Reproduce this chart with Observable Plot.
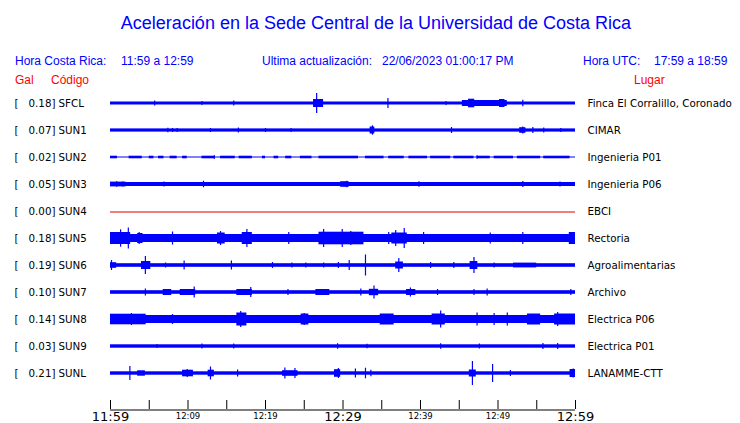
<!DOCTYPE html>
<html>
<head>
<meta charset="utf-8">
<script src="https://cdn.jsdelivr.net/npm/d3@7"></script>
<script src="https://cdn.jsdelivr.net/npm/@observablehq/plot@0.6"></script>
<style>
  body { margin: 0; background: #fff; }
  #wrap { position: relative; width: 740px; height: 423px; overflow: hidden; }
  #head { position: relative; width: 740px; height: 88px; font-family: "Liberation Sans", Arial, sans-serif; }
  #head span { position: absolute; white-space: nowrap; line-height: 1; }
  .b { color: #0000ff; font-size: 12px; }
  .r { color: #ff0000; font-size: 12px; }
  #title { left: 0; width: 752px; text-align: center; top: 14px; font-size: 18px; color: #0000ff; }
  #chart { position: absolute; left: 0; top: 88px; }
</style>
</head>
<body>
<div id="wrap">
  <div id="head">
    <span id="title">Aceleración en la Sede Central de la Universidad de Costa Rica</span>
    <span class="b" style="left:15px;top:55px">Hora Costa Rica:</span>
    <span class="b" style="left:121px;top:55px">11:59 a 12:59</span>
    <span class="b" style="left:262px;top:55px">Ultima actualización:</span>
    <span class="b" style="left:382px;top:55px">22/06/2023 01:00:17 PM</span>
    <span class="b" style="left:583px;top:55px">Hora UTC:</span>
    <span class="b" style="left:654px;top:55px">17:59 a 18:59</span>
    <span class="r" style="left:15px;top:74px">Gal</span>
    <span class="r" style="left:51px;top:74px">Código</span>
    <span class="r" style="left:634px;top:74px">Lugar</span>
  </div>
  <div id="chart"></div>
</div>
<script>
// ---- data ----
const stations = ["SFCL","SUN1","SUN2","SUN3","SUN4","SUN5","SUN6","SUN7","SUN8","SUN9","SUNL"];
const gal = ["0.18","0.07","0.02","0.05","0.00","0.18","0.19","0.10","0.14","0.03","0.21"];
const places = ["Finca El Corralillo, Coronado","CIMAR","Ingenieria P01","Ingenieria P06","EBCI","Rectoria","Agroalimentarias","Archivo","Electrica P06","Electrica P01","LANAMME-CTT"];
// typical half-amplitude of each trace's background band
const coreAmp = [1.5, 1.6, 0.5, 2.0, 0, 4.0, 1.8, 1.8, 4.0, 1.7, 1.7];
// [station index, start minute, end minute, half-amplitude]
const bursts = [
  [0,26.2,27.5,4],[0,45.4,51.2,3],[0,46.2,47.0,4.3],[0,50.2,50.9,4],
  [1,33.5,34.1,3.5],[1,52.8,53.6,2.8],
  [2,0,0.9,1.3],[2,2.4,4.1,1.3],[2,5.0,5.6,1.3],[2,6.2,6.9,1.3],[2,7.7,8.6,1.3],[2,9.3,9.9,1.3],
  [2,11.8,13.5,1.3],[2,14.2,16.1,1.3],[2,16.6,18.3,1.3],[2,19.6,20.0,1.3],[2,21.1,21.7,1.3],
  [2,22.6,23.4,1.3],[2,24.5,26.0,1.3],[2,26.9,32.0,1.3],[2,32.9,35.3,1.3],[2,35.9,37.9,1.3],
  [2,38.5,40.9,1.3],[2,41.3,43.9,1.3],[2,44.3,46.9,1.3],[2,47.3,49.0,1.3],[2,49.5,52.0,1.3],
  [2,52.5,55.5,1.3],[2,55.9,59.3,1.3],
  [3,0,2.0,2.4],[3,29.7,30.8,2.8],
  [5,0,2.6,6],[5,3.5,4.2,5],[5,13.8,14.8,5.5],[5,17.0,18.3,6],[5,26.9,32.7,6.3],[5,36.3,38.3,5.5],[5,59.2,60,6],
  [6,0,0.8,2.8],[6,4.0,5.2,4],[6,36.8,37.8,3.5],[6,46.4,47.4,4],[6,52,55,2.4],
  [7,6.8,7.9,3],[7,9.0,11.0,3],[7,16.3,18.3,3],[7,26.5,28.3,3],[7,33.4,34.6,3.2],[7,38.2,39.4,3],
  [8,0,4.6,5.3],[8,16.3,17.6,6.5],[8,24.6,25.6,5.5],[8,34.8,36.6,5.5],[8,41.5,43.2,5.5],[8,53.8,55.5,5.5],[8,57.3,60,5.5],
  [10,3.5,4.5,2.7],[10,9.3,10.7,3.3],[10,12.6,13.4,3.3],[10,22.2,24.2,2.8],[10,28.9,29.7,3.8],[10,46.3,47.2,3.5],[10,59.3,60,4]
];
// [station index, minute, half-amplitude]
const spikes = [
  [0,5.7,2.5],[0,11.8,1.9],[0,15.9,2.5],[0,26.6,10],[0,35.8,5],[0,43.3,2],[0,53.2,3.3],
  [1,7.4,2.3],[1,8.0,2],[1,8.6,2],[1,12.9,2],[1,16.5,2.5],[1,20.0,2],[1,23.3,2],[1,33.8,4.7],[1,44.0,3],[1,53.2,3.5],[1,54.5,3],[1,55.9,2.5],[1,58.1,2],
  [2,13.4,1.8],[2,47.3,1.8],
  [3,0.8,2.8],[3,1.6,2.6],[3,6.9,2.5],[3,12.0,3.3],[3,30.5,3.3],[3,39.8,2.7],[3,53.2,3],[3,58,2.5],
  [5,1.3,8.7],[5,2.3,10.5],[5,3.7,6],[5,8,6.5],[5,14.2,7],[5,17.6,9],[5,23,6],[5,27.5,9],[5,29.9,9],[5,31.0,7],[5,35.9,6],[5,36.8,8],[5,37.9,10],[5,40.4,6],[5,49.0,5.5],[5,53.2,6],
  [6,0.13,5],[6,4.5,9],[6,7.1,2.5],[6,9.5,4.5],[6,15.6,4.5],[6,20.9,3],[6,23.4,2.5],[6,25.2,2.5],[6,27.5,2.5],[6,29.4,3],[6,30.8,5],[6,32.9,10.5],[6,37.2,7],[6,41.3,3],[6,44.3,3],[6,46.9,8],[6,49.5,2.5],
  [7,4.5,3.5],[7,10.8,5.5],[7,18.1,5],[7,22.9,3],[7,32.3,3.5],[7,34.0,6.5],[7,38.7,4.5],[7,42.2,3],[7,46.9,3],[7,48.6,3.5],[7,59.4,3],
  [8,2.7,6],[8,8,5],[8,16.8,8],[8,25.0,6],[8,42.6,8.5],[8,47.3,6.5],[8,49.5,6],[8,51.2,6.5],[8,57.7,7],
  [9,6.0,2],[9,11.8,2.5],[9,15.9,2.5],[9,29.3,2.8],[9,33.1,2.2],[9,42.6,2.8],[9,47.6,2.5],[9,55.8,3],[9,57.7,3],
  [10,2.5,7],[10,9.9,4],[10,12.9,6.5],[10,16.4,3.5],[10,22.5,5.5],[10,23.8,5],[10,29.4,5],[10,31.6,4.5],[10,32.9,5.3],[10,33.6,3.3],[10,46.7,12],[10,49.3,9],[10,51.6,3],[10,59.7,4.5]
];
const tickMinutes = [0,5,10,15,20,25,30,35,40,45,50,55,60];
const bigLabels = [[0,"11:59"],[30,"12:29"],[60,"12:59"]];
const smallLabels = [[10,"12:09"],[20,"12:19"],[40,"12:39"],[50,"12:49"]];

// ---- layout ----
const ROW = 27;
const row = i => ROW * i;
const BLUE = "#0000ff";
const font = "DejaVu Sans, sans-serif";
const FS = 10.3;
const live = stations.map((s, i) => ({i, a: coreAmp[i]})).filter(d => d.a > 0);
const AXIS = 306;

const chart = Plot.plot({
  width: 740,
  height: 335,
  marginLeft: 110,
  marginRight: 165,
  marginTop: 0,
  marginBottom: 0,
  x: {domain: [0, 60], axis: null},
  y: {domain: [-15, 320], reverse: true, axis: null},
  marks: [
    Plot.rect(live, {x1: () => 0, x2: () => 60, y1: d => row(d.i) - d.a, y2: d => row(d.i) + d.a, fill: BLUE}),
    Plot.rect(bursts, {x1: d => d[1], x2: d => d[2], y1: d => row(d[0]) - d[3], y2: d => row(d[0]) + d[3], fill: BLUE}),
    Plot.ruleX(spikes, {x: d => d[1], y1: d => row(d[0]) - d[2], y2: d => row(d[0]) + d[2], stroke: BLUE, strokeWidth: 1.2}),
    Plot.ruleY([row(4) + 0.5], {x1: 0, x2: 60, stroke: "#e00000", strokeWidth: 1}),
    // left labels
    Plot.text(stations, {x: () => 0, y: (d, i) => row(i), text: () => "[", dx: -96, textAnchor: "start", fontFamily: font, fontSize: FS, fill: "#000"}),
    Plot.text(gal, {x: () => 0, y: (d, i) => row(i), text: d => d + "]", dx: -55, textAnchor: "end", fontFamily: font, fontSize: FS, fill: "#000"}),
    Plot.text(stations, {x: () => 0, y: (d, i) => row(i), text: d => d, dx: -52, textAnchor: "start", fontFamily: font, fontSize: FS, fill: "#000"}),
    // right labels
    Plot.text(places, {x: () => 60, y: (d, i) => row(i), text: d => d, dx: 12, textAnchor: "start", fontFamily: font, fontSize: FS, fill: "#000"}),
    // time axis
    Plot.ruleY([AXIS + 0.5], {x1: 0, x2: 60, stroke: "#000", strokeWidth: 1}),
    Plot.ruleX(tickMinutes, {x: d => d, y1: AXIS - 9, y2: AXIS, stroke: "#000", strokeWidth: 1}),
    Plot.text(bigLabels, {x: d => d[0], y: () => AXIS + 2, text: d => d[1], fontFamily: font, fontSize: 13, fill: "#000", lineAnchor: "top"}),
    Plot.text(smallLabels, {x: d => d[0], y: () => AXIS + 3, text: d => d[1], fontFamily: font, fontSize: 8.5, fill: "#000", lineAnchor: "top"})
  ]
});
document.getElementById("chart").appendChild(chart);
</script>
</body>
</html>
